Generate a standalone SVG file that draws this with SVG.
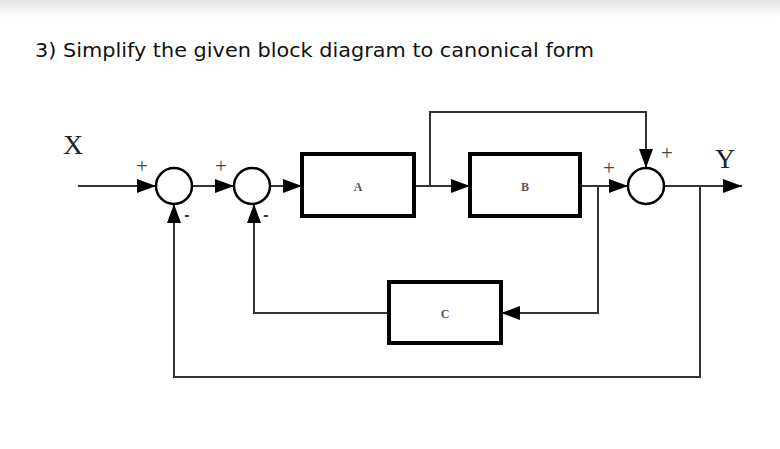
<svg xmlns="http://www.w3.org/2000/svg" width="780" height="449" viewBox="0 0 780 449">
<defs>
<linearGradient id="top" x1="0" y1="0" x2="0" y2="1">
<stop offset="0" stop-color="#e4e4e4"/>
<stop offset="1" stop-color="#ffffff"/>
</linearGradient>
<marker id="arr" markerUnits="userSpaceOnUse" markerWidth="20" markerHeight="14" refX="19" refY="7" orient="auto">
<path d="M0,0 L19,7 L0,14 Z" fill="#000"/>
</marker>
<style>
.ln{fill:none;stroke:#333;stroke-width:2}
.box{fill:#fff;stroke:#000;stroke-width:4}
.sum{fill:#fff;stroke:#000;stroke-width:2.5}
.lbl{font-family:"Liberation Serif",serif;font-weight:bold;font-size:12px;fill:#555;text-anchor:middle}
.big{font-family:"Liberation Serif",serif;font-size:28px;fill:#222;text-anchor:middle}
.sg{font-family:"Liberation Serif",serif;font-size:21px;fill:#444;text-anchor:middle}
.mn{font-family:"Liberation Sans",sans-serif;font-weight:bold;font-size:16px;fill:#333;text-anchor:middle}
</style>
</defs>
<rect width="780" height="449" fill="#fff"/>
<rect width="780" height="18" fill="url(#top)"/>
<text x="35" y="57" font-family="DejaVu Sans, sans-serif" font-size="20" fill="#111" textLength="559" lengthAdjust="spacingAndGlyphs">3)  Simplify the given block diagram to canonical form</text>

<g id="connectors">
<line class="ln" x1="78" y1="186" x2="156" y2="186" marker-end="url(#arr)"/>
<line class="ln" x1="192" y1="186" x2="234" y2="186" marker-end="url(#arr)"/>
<line class="ln" x1="270" y1="186" x2="302" y2="186" marker-end="url(#arr)"/>
<line class="ln" x1="414" y1="186" x2="470" y2="186" marker-end="url(#arr)"/>
<polyline class="ln" points="430,186 430,112 646,112 646,168" marker-end="url(#arr)"/>
<line class="ln" x1="580" y1="186" x2="628" y2="186" marker-end="url(#arr)"/>
<line class="ln" x1="664" y1="186" x2="742" y2="186" marker-end="url(#arr)"/>
<polyline class="ln" points="598,186 598,313 501,313" marker-end="url(#arr)"/>
<polyline class="ln" points="388,313 254,313 254,204" marker-end="url(#arr)"/>
<polyline class="ln" points="700,186 700,377 174,377 174,204" marker-end="url(#arr)"/>
</g>

<g id="sum1"><circle class="sum" cx="174" cy="186" r="18"/></g>
<g id="sum2"><circle class="sum" cx="252" cy="186" r="18"/></g>
<g id="sum3"><circle class="sum" cx="646" cy="186" r="18"/></g>

<g id="blockA"><rect class="box" x="302" y="154" width="112" height="62"/><text class="lbl" x="358" y="191">A</text></g>
<g id="blockB"><rect class="box" x="470" y="154" width="110" height="62"/><text class="lbl" x="525" y="191">B</text></g>
<g id="blockC"><rect class="box" x="389" y="282" width="112" height="61"/><text class="lbl" x="445" y="318">C</text></g>

<g id="labels">
<text class="big" x="73" y="154">X</text>
<text class="big" x="725" y="168">Y</text>
<text class="sg" x="142" y="173">+</text>
<text class="sg" x="221" y="173">+</text>
<text class="sg" x="609" y="175">+</text>
<text class="sg" x="667" y="160">+</text>
<text class="mn" x="187" y="220">-</text>
<text class="mn" x="266" y="220">-</text>
</g>
</svg>
